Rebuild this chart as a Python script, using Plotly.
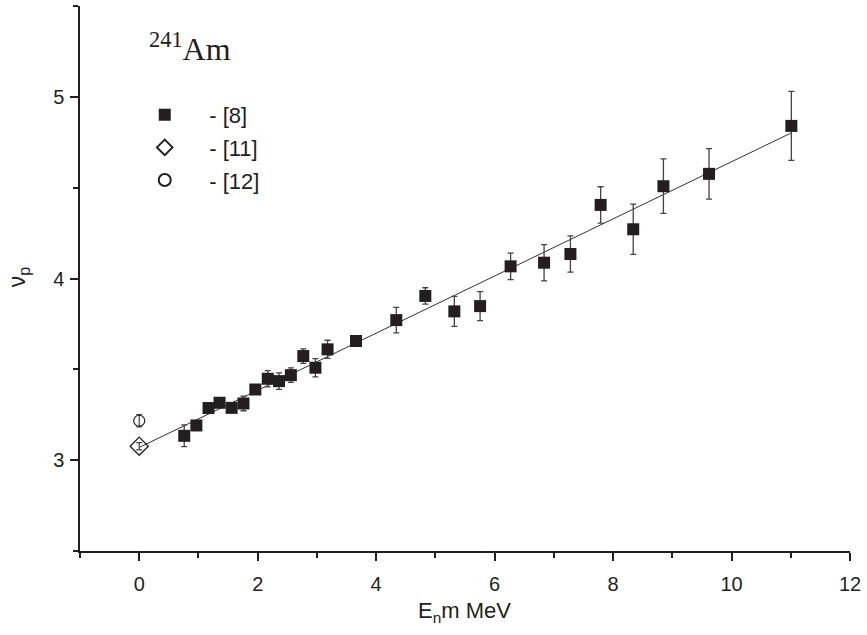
import plotly.graph_objects as go

# Data
x8 = [0.76, 0.965, 1.17, 1.356, 1.56, 1.76, 1.96, 2.17, 2.36, 2.56, 2.77, 2.975, 3.18,
      3.66, 4.34, 4.83, 5.32, 5.755, 6.27, 6.835, 7.28, 7.79, 8.34, 8.85, 9.62, 11.01]
y8 = [3.134, 3.191, 3.287, 3.316, 3.288, 3.312, 3.389, 3.448, 3.435, 3.468, 3.573, 3.509, 3.61,
      3.656, 3.771, 3.904, 3.819, 3.848, 4.067, 4.087, 4.135, 4.405, 4.271, 4.508, 4.576, 4.84]
e8 = [0.06, 0.02, 0.015, 0.015, 0.015, 0.04, 0.015, 0.045, 0.045, 0.04, 0.04, 0.05, 0.05,
      0.01, 0.07, 0.045, 0.083, 0.08, 0.073, 0.10, 0.10, 0.10, 0.138, 0.15, 0.139, 0.19]

x11 = [0.0]
y11 = [3.077]
e11 = [0.02]

x12 = [0.0]
y12 = [3.217]
e12 = [0.034]

fit_x = [0.0, 11.0]
fit_y = [3.07, 4.80]

x_ticks = [0, 2, 4, 6, 8, 10, 12]
y_ticks = [3, 4, 5]

ink = "#231f20"

fig = go.Figure()
fig.add_trace(go.Scatter(x=fit_x, y=fit_y, mode="lines",
                         line=dict(color="#333333", width=1), showlegend=False, hoverinfo="skip"))
fig.add_trace(go.Scatter(x=x8, y=y8, mode="markers", name="\u00a0\u00a0\u00a0\u00a0- [8]",
                         legendgroup="a",
                         marker=dict(symbol="square", size=12, color=ink),
                         error_y=dict(type="data", array=e8, color="#444444", thickness=1.3, width=3)))
fig.add_trace(go.Scatter(x=x11, y=y11, mode="markers", name="\u00a0\u00a0\u00a0\u00a0- [11]",
                         legendgroup="b",
                         marker=dict(symbol="diamond-open", size=14, color=ink, line=dict(width=1.3)),
                         error_y=dict(type="data", array=e11, color="#444444", thickness=1.2, width=3)))
fig.add_trace(go.Scatter(x=x12, y=y12, mode="markers", name="\u00a0\u00a0\u00a0\u00a0- [12]",
                         legendgroup="c",
                         marker=dict(symbol="circle-open", size=11, color=ink, line=dict(width=1.2)),
                         error_y=dict(type="data", array=e12, color="#444444", thickness=1.2, width=3)))

L, R, T, B = 80, 14, 6, 84
W, H = 867, 635
pw, ph = W - L - R, H - T - B

def px_x(p):
    return (p - L) / pw

def px_y(p):
    return (H - B - p) / ph

axis_font = dict(family="Liberation Sans, Arial, sans-serif", size=20, color=ink)

fig.update_layout(
    width=W, height=H,
    margin=dict(l=L, r=R, t=T, b=B, pad=0),
    plot_bgcolor="white", paper_bgcolor="white",
    showlegend=True,
    legend=dict(x=px_x(145), y=px_y(94), xanchor="left", yanchor="top",
                font=dict(family="Liberation Sans, Arial, sans-serif", size=22, color=ink),
                bgcolor="rgba(0,0,0,0)", borderwidth=0, itemsizing="constant",
                traceorder="grouped", tracegroupgap=1),
    xaxis=dict(range=[-1, 12], tickvals=x_ticks, ticktext=[str(v) for v in x_ticks],
               showgrid=False, zeroline=False, showline=True, linecolor=ink, linewidth=1.5,
               ticks="outside", ticklen=8, tickwidth=1.5, tickcolor=ink, tickfont=axis_font,
               ticklabelstandoff=6,
               minor=dict(dtick=1, tick0=-1, ticks="outside", ticklen=5, tickwidth=1.5, tickcolor=ink)),
    yaxis=dict(range=[2.5, 5.5], tickvals=y_ticks, ticktext=[str(v) for v in y_ticks],
               showgrid=False, zeroline=False, showline=True, linecolor=ink, linewidth=1.5,
               ticks="outside", ticklen=8, tickwidth=1.5, tickcolor=ink, tickfont=axis_font,
               ticklabelstandoff=2,
               minor=dict(dtick=0.5, tick0=2.5, ticks="outside", ticklen=5, tickwidth=1.5, tickcolor=ink)),
    annotations=[
        dict(text="<sup>241</sup>Am", xref="paper", yref="paper", x=px_x(147), y=px_y(47),
             xanchor="left", yanchor="middle", showarrow=False,
             font=dict(family="Liberation Serif, Times New Roman, serif", size=32, color=ink)),
        dict(text="E<sub>n</sub>m MeV", xref="paper", yref="paper", x=px_x(466), y=px_y(612),
             xanchor="center", yanchor="middle", showarrow=False,
             font=dict(family="Liberation Sans, Arial, sans-serif", size=22, color=ink)),
        dict(text="\u03bd<sub>p</sub>", xref="paper", yref="paper", x=px_x(18), y=px_y(277),
             xanchor="center", yanchor="middle", showarrow=False, textangle=-90,
             font=dict(family="Liberation Sans, Arial, sans-serif", size=23, color=ink)),
    ],
)

fig.write_html("out.html")
